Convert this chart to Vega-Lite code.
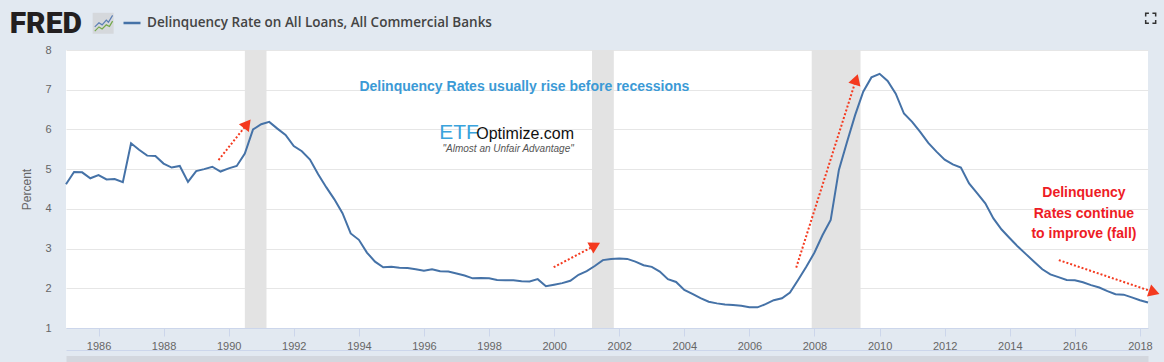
{
  "$schema": "https://vega.github.io/schema/vega-lite/v6.json",
  "width": 1082,
  "height": 278,
  "autosize": {"type": "none"},
  "padding": {"left": 66, "top": 50, "right": 16, "bottom": 34},
  "background": "#e2e9f1",
  "config": {"view": {"fill": "white", "stroke": null}, "font": "Liberation Sans"},
  "data": {"values": [{}]},
  "datasets": {
    "series": [
      {"date": "1985-01-01", "value": 4.62}, {"date": "1985-04-01", "value": 4.93}, {"date": "1985-07-01", "value": 4.92}, {"date": "1985-10-01", "value": 4.77},
      {"date": "1986-01-01", "value": 4.85}, {"date": "1986-04-01", "value": 4.74}, {"date": "1986-07-01", "value": 4.75}, {"date": "1986-10-01", "value": 4.67},
      {"date": "1987-01-01", "value": 5.65}, {"date": "1987-04-01", "value": 5.49}, {"date": "1987-07-01", "value": 5.34}, {"date": "1987-10-01", "value": 5.33},
      {"date": "1988-01-01", "value": 5.14}, {"date": "1988-04-01", "value": 5.04}, {"date": "1988-07-01", "value": 5.08}, {"date": "1988-10-01", "value": 4.68},
      {"date": "1989-01-01", "value": 4.95}, {"date": "1989-04-01", "value": 5.00}, {"date": "1989-07-01", "value": 5.06}, {"date": "1989-10-01", "value": 4.94},
      {"date": "1990-01-01", "value": 5.02}, {"date": "1990-04-01", "value": 5.08}, {"date": "1990-07-01", "value": 5.39}, {"date": "1990-10-01", "value": 6.00},
      {"date": "1991-01-01", "value": 6.13}, {"date": "1991-04-01", "value": 6.19}, {"date": "1991-07-01", "value": 6.02}, {"date": "1991-10-01", "value": 5.86},
      {"date": "1992-01-01", "value": 5.58}, {"date": "1992-04-01", "value": 5.45}, {"date": "1992-07-01", "value": 5.24}, {"date": "1992-10-01", "value": 4.87},
      {"date": "1993-01-01", "value": 4.54}, {"date": "1993-04-01", "value": 4.24}, {"date": "1993-07-01", "value": 3.89}, {"date": "1993-10-01", "value": 3.38},
      {"date": "1994-01-01", "value": 3.22}, {"date": "1994-04-01", "value": 2.90}, {"date": "1994-07-01", "value": 2.67}, {"date": "1994-10-01", "value": 2.53},
      {"date": "1995-01-01", "value": 2.54}, {"date": "1995-04-01", "value": 2.52}, {"date": "1995-07-01", "value": 2.51}, {"date": "1995-10-01", "value": 2.48},
      {"date": "1996-01-01", "value": 2.44}, {"date": "1996-04-01", "value": 2.48}, {"date": "1996-07-01", "value": 2.43}, {"date": "1996-10-01", "value": 2.42},
      {"date": "1997-01-01", "value": 2.37}, {"date": "1997-04-01", "value": 2.32}, {"date": "1997-07-01", "value": 2.25}, {"date": "1997-10-01", "value": 2.26},
      {"date": "1998-01-01", "value": 2.25}, {"date": "1998-04-01", "value": 2.21}, {"date": "1998-07-01", "value": 2.20}, {"date": "1998-10-01", "value": 2.20},
      {"date": "1999-01-01", "value": 2.18}, {"date": "1999-04-01", "value": 2.17}, {"date": "1999-07-01", "value": 2.23}, {"date": "1999-10-01", "value": 2.05},
      {"date": "2000-01-01", "value": 2.09}, {"date": "2000-04-01", "value": 2.13}, {"date": "2000-07-01", "value": 2.19}, {"date": "2000-10-01", "value": 2.34},
      {"date": "2001-01-01", "value": 2.43}, {"date": "2001-04-01", "value": 2.56}, {"date": "2001-07-01", "value": 2.71}, {"date": "2001-10-01", "value": 2.74},
      {"date": "2002-01-01", "value": 2.75}, {"date": "2002-04-01", "value": 2.74}, {"date": "2002-07-01", "value": 2.67}, {"date": "2002-10-01", "value": 2.58},
      {"date": "2003-01-01", "value": 2.54}, {"date": "2003-04-01", "value": 2.42}, {"date": "2003-07-01", "value": 2.23}, {"date": "2003-10-01", "value": 2.16},
      {"date": "2004-01-01", "value": 1.96}, {"date": "2004-04-01", "value": 1.86}, {"date": "2004-07-01", "value": 1.75}, {"date": "2004-10-01", "value": 1.66},
      {"date": "2005-01-01", "value": 1.62}, {"date": "2005-04-01", "value": 1.59}, {"date": "2005-07-01", "value": 1.58}, {"date": "2005-10-01", "value": 1.56},
      {"date": "2006-01-01", "value": 1.52}, {"date": "2006-04-01", "value": 1.52}, {"date": "2006-07-01", "value": 1.60}, {"date": "2006-10-01", "value": 1.70},
      {"date": "2007-01-01", "value": 1.75}, {"date": "2007-04-01", "value": 1.89}, {"date": "2007-07-01", "value": 2.21}, {"date": "2007-10-01", "value": 2.54},
      {"date": "2008-01-01", "value": 2.90}, {"date": "2008-04-01", "value": 3.34}, {"date": "2008-07-01", "value": 3.72}, {"date": "2008-10-01", "value": 4.98},
      {"date": "2009-01-01", "value": 5.69}, {"date": "2009-04-01", "value": 6.36}, {"date": "2009-07-01", "value": 6.95}, {"date": "2009-10-01", "value": 7.31},
      {"date": "2010-01-01", "value": 7.40}, {"date": "2010-04-01", "value": 7.22}, {"date": "2010-07-01", "value": 6.90}, {"date": "2010-10-01", "value": 6.40},
      {"date": "2011-01-01", "value": 6.19}, {"date": "2011-04-01", "value": 5.94}, {"date": "2011-07-01", "value": 5.66}, {"date": "2011-10-01", "value": 5.44},
      {"date": "2012-01-01", "value": 5.24}, {"date": "2012-04-01", "value": 5.12}, {"date": "2012-07-01", "value": 5.04}, {"date": "2012-10-01", "value": 4.64},
      {"date": "2013-01-01", "value": 4.39}, {"date": "2013-04-01", "value": 4.14}, {"date": "2013-07-01", "value": 3.76}, {"date": "2013-10-01", "value": 3.48},
      {"date": "2014-01-01", "value": 3.26}, {"date": "2014-04-01", "value": 3.05}, {"date": "2014-07-01", "value": 2.86}, {"date": "2014-10-01", "value": 2.67},
      {"date": "2015-01-01", "value": 2.48}, {"date": "2015-04-01", "value": 2.35}, {"date": "2015-07-01", "value": 2.28}, {"date": "2015-10-01", "value": 2.21},
      {"date": "2016-01-01", "value": 2.20}, {"date": "2016-04-01", "value": 2.15}, {"date": "2016-07-01", "value": 2.08}, {"date": "2016-10-01", "value": 2.02},
      {"date": "2017-01-01", "value": 1.93}, {"date": "2017-04-01", "value": 1.85}, {"date": "2017-07-01", "value": 1.84}, {"date": "2017-10-01", "value": 1.77},
      {"date": "2018-01-01", "value": 1.70}, {"date": "2018-04-01", "value": 1.64}
    ],
    "recessions": [
      {"start": "1990-07-01", "end": "1991-03-01"},
      {"start": "2001-03-01", "end": "2001-11-01"},
      {"start": "2007-12-01", "end": "2009-06-01"}
    ],
    "arrows": [
      {"from": "1989-09-09", "fromValue": 5.23, "to": "1990-07-28", "toValue": 6.14, "heading": 38},
      {"from": "1999-12-27", "fromValue": 2.53, "to": "2001-04-06", "toValue": 3.08, "heading": 62},
      {"from": "2007-06-10", "fromValue": 2.52, "to": "2009-04-12", "toValue": 7.26, "heading": 18},
      {"from": "2015-07-05", "fromValue": 2.71, "to": "2018-06-10", "toValue": 1.90, "heading": 109}
    ]
  },
  "resolve": {"axis": {"x": "independent"}},
  "layer": [
    {
      "data": {"name": "recessions"},
      "mark": {"type": "rect", "color": "#e3e3e3"},
      "encoding": {
        "x": {"field": "start", "type": "temporal",
          "scale": {"domain": [{"year": 1985, "month": 1, "date": 1}, {"year": 2018, "month": 4, "date": 1}], "nice": false},
          "axis": {
            "orient": "bottom",
            "values": [{"year": 1986}, {"year": 1988}, {"year": 1990}, {"year": 1992}, {"year": 1994}, {"year": 1996}, {"year": 1998}, {"year": 2000}, {"year": 2002}, {"year": 2004}, {"year": 2006}, {"year": 2008}, {"year": 2010}, {"year": 2012}, {"year": 2014}, {"year": 2016}, {"year": 2018}],
            "tickCount": 40,
            "format": "%Y", "title": null, "grid": false,
            "domainColor": "#ccd6eb", "tickColor": "#ccd6eb", "tickSize": 8,
            "labelColor": "#666666", "labelFontSize": 11, "labelPadding": 4,
            "labelFlush": false, "labelOverlap": false
          }
        },
        "x2": {"field": "end"}
      }
    },
    {
      "data": {"name": "series"},
      "mark": {"type": "line", "strokeWidth": 2},
      "encoding": {
        "x": {"field": "date", "type": "temporal",
          "axis": {"orient": "bottom", "offset": 22, "labels": false, "ticks": false, "grid": false, "title": null, "domainColor": "#ccd6eb", "domainWidth": 1}
        },
        "y": {"field": "value", "type": "quantitative",
          "scale": {"domain": [1, 8], "nice": false},
          "axis": {
            "values": [1, 2, 3, 4, 5, 6, 7, 8], "tickCount": 10, "format": "d", "title": "Percent", "labelOverlap": false,
            "grid": true, "gridColor": "#e6e6e6", "domain": false, "ticks": false,
            "labelColor": "#666666", "labelFontSize": 11, "labelPadding": 15,
            "titleColor": "#666666", "titleFontSize": 12, "titleFontWeight": "normal",
            "titleX": -40, "titleY": 139, "titleBaseline": "middle", "titleAngle": 270
          }
        },
        "color": {
          "datum": "Delinquency Rate on All Loans, All Commercial Banks",
          "scale": {"range": ["#4572a7"]},
          "legend": {
            "orient": "none", "legendX": 56, "legendY": -37, "title": null, "padding": 0,
            "symbolType": "stroke", "symbolSize": 289, "symbolStrokeWidth": 2.5,
            "labelFont": "Open Sans", "labelFontSize": 13.5, "labelFontWeight": 600,
            "labelColor": "#444444", "labelOffset": 5, "labelLimit": 600
          }
        }
      }
    },
    {
      "data": {"name": "arrows"},
      "mark": {"type": "rule", "color": "#f43a1f", "strokeWidth": 2, "strokeDash": [2, 2]},
      "encoding": {
        "x": {"field": "from", "type": "temporal",
          "axis": {"orient": "bottom", "offset": 31, "labels": false, "ticks": false, "grid": false, "title": null, "domainColor": "#d3d7de", "domainWidth": 7}
        },
        "y": {"field": "fromValue", "type": "quantitative"},
        "x2": {"field": "to"},
        "y2": {"field": "toValue"}
      }
    },
    {
      "data": {"name": "arrows"},
      "mark": {"type": "point", "shape": "triangle-up", "filled": true, "color": "#f43a1f", "size": 160, "opacity": 1},
      "encoding": {
        "x": {"field": "to", "type": "temporal", "axis": null},
        "y": {"field": "toValue", "type": "quantitative"},
        "angle": {"field": "heading", "type": "quantitative", "scale": null}
      }
    },
    {
      "mark": {"type": "text", "text": "FRED", "font": "Roboto", "fontWeight": 900, "fontSize": 30, "color": "#231f20", "align": "left", "baseline": "alphabetic"},
      "encoding": {
        "x": {"datum": {"year": 1983, "month": 4, "date": 10}, "type": "temporal", "axis": null},
        "y": {"datum": 8.42, "type": "quantitative"}
      }
    },
    {
      "mark": {"type": "point", "shape": "square", "filled": true, "color": "#d5d8dc", "size": 440, "opacity": 1},
      "encoding": {
        "x": {"datum": {"year": 1986, "month": 2, "date": 22}, "type": "temporal", "axis": null},
        "y": {"datum": 8.673, "type": "quantitative"}
      }
    },
    {
      "mark": {"type": "point", "shape": "M-0.8,0.35L-0.4,-0.05L-0.1,0.15L0.3,-0.3L0.5,-0.1L0.9,-0.75", "filled": false, "color": "#5b7fb5", "strokeWidth": 1.2, "size": 440, "opacity": 1},
      "encoding": {
        "x": {"datum": {"year": 1986, "month": 2, "date": 22}, "type": "temporal", "axis": null},
        "y": {"datum": 8.673, "type": "quantitative"}
      }
    },
    {
      "mark": {"type": "point", "shape": "M-0.8,0.75L-0.4,0.35L-0.1,0.55L0.3,0.15L0.6,0.3L0.9,-0.2", "filled": false, "color": "#74a84a", "strokeWidth": 1.2, "size": 440, "opacity": 1},
      "encoding": {
        "x": {"datum": {"year": 1986, "month": 2, "date": 22}, "type": "temporal", "axis": null},
        "y": {"datum": 8.673, "type": "quantitative"}
      }
    },
    {
      "mark": {"type": "point", "shape": "M-1,-0.35V-1H-0.35M0.35,-1H1V-0.35M1,0.35V1H0.35M-0.35,1H-1V0.35", "filled": false, "color": "#333333", "strokeWidth": 1.5, "size": 100, "opacity": 1},
      "encoding": {
        "x": {"datum": {"year": 2018, "month": 5, "date": 1}, "type": "temporal", "axis": null},
        "y": {"datum": 8.8, "type": "quantitative"}
      }
    },
    {
      "mark": {"type": "text", "text": "Delinquency Rates usually rise before recessions", "font": "Liberation Sans", "fontWeight": "bold", "fontSize": 14, "color": "#3b9ad6", "align": "center", "baseline": "middle"},
      "encoding": {
        "x": {"datum": {"year": 1999, "month": 2, "date": 1}, "type": "temporal", "axis": null},
        "y": {"datum": 7.06, "type": "quantitative"}
      }
    },
    {
      "mark": {"type": "text", "text": "ETF", "font": "Liberation Sans", "fontSize": 21, "color": "#3aa3dc", "align": "left", "baseline": "alphabetic"},
      "encoding": {
        "x": {"datum": {"year": 1996, "month": 6, "date": 20}, "type": "temporal", "axis": null},
        "y": {"datum": 5.77, "type": "quantitative"}
      }
    },
    {
      "mark": {"type": "text", "text": "Optimize.com", "font": "Liberation Sans", "fontSize": 16, "color": "#111111", "align": "left", "baseline": "alphabetic"},
      "encoding": {
        "x": {"datum": {"year": 1997, "month": 8, "date": 10}, "type": "temporal", "axis": null},
        "y": {"datum": 5.755, "type": "quantitative"}
      }
    },
    {
      "mark": {"type": "text", "text": "\"Almost an Unfair Advantage\"", "font": "Liberation Sans", "fontStyle": "italic", "fontSize": 10, "color": "#555555", "align": "center", "baseline": "middle"},
      "encoding": {
        "x": {"datum": {"year": 1998, "month": 8, "date": 3}, "type": "temporal", "axis": null},
        "y": {"datum": 5.5, "type": "quantitative"}
      }
    },
    {
      "mark": {"type": "text", "text": ["Delinquency", "Rates continue", "to improve (fall)"], "lineHeight": 20.7, "font": "Liberation Sans", "fontWeight": "bold", "fontSize": 14, "color": "#ee1c25", "align": "center", "baseline": "middle"},
      "encoding": {
        "x": {"datum": {"year": 2016, "month": 4, "date": 12}, "type": "temporal", "axis": null},
        "y": {"datum": 4.404, "type": "quantitative"}
      }
    }
  ]
}
